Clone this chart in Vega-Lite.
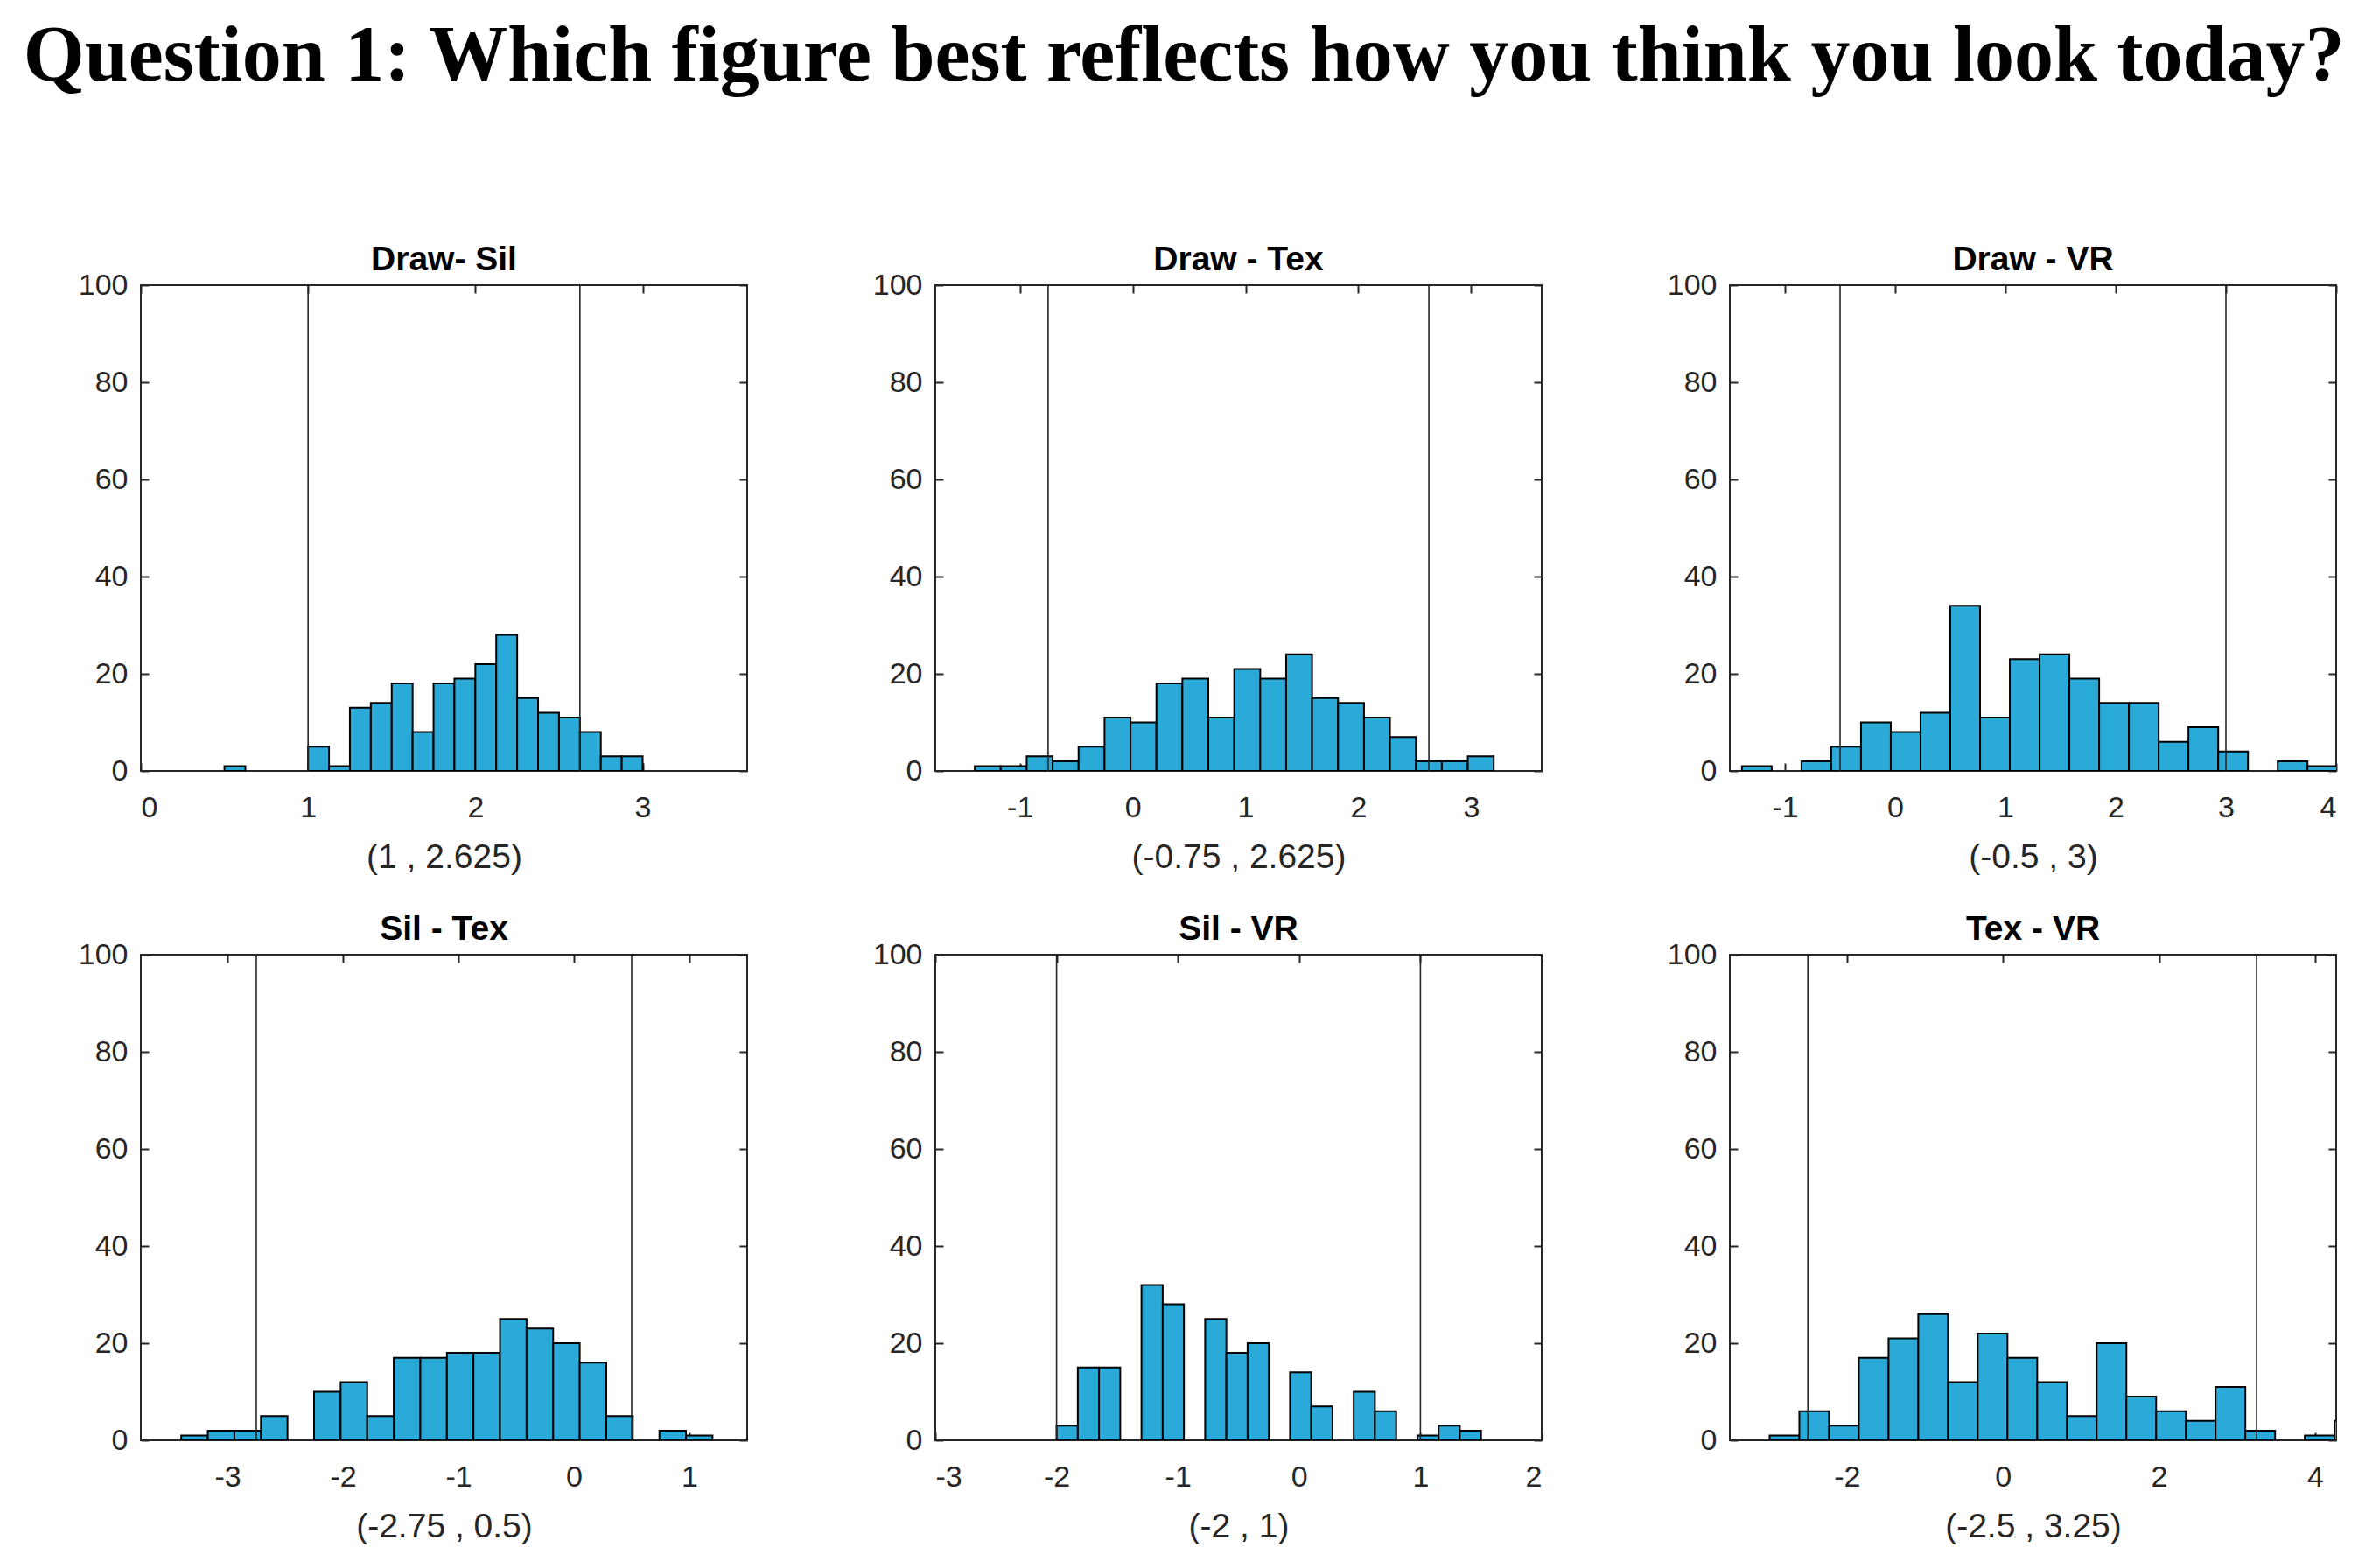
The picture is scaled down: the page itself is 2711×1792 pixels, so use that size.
{
  "$schema": "https://vega.github.io/schema/vega-lite/v6.json",
  "background": "white",
  "padding": {"left": 25, "top": 20, "right": 10, "bottom": 10},
  "title": {"text": "Question 1: Which figure best reflects how you think you look today?", "font": "Liberation Serif", "fontSize": 90, "fontWeight": "bold", "color": "#000000", "anchor": "middle", "baseline": "alphabetic", "offset": 95, "dx": -27},
  "datasets": {
    "bars": [
      {"p": "Draw- Sil", "x0": 0.5, "x1": 0.625, "n": 1},
      {"p": "Draw- Sil", "x0": 1.0, "x1": 1.125, "n": 5},
      {"p": "Draw- Sil", "x0": 1.125, "x1": 1.25, "n": 1},
      {"p": "Draw- Sil", "x0": 1.25, "x1": 1.375, "n": 13},
      {"p": "Draw- Sil", "x0": 1.375, "x1": 1.5, "n": 14},
      {"p": "Draw- Sil", "x0": 1.5, "x1": 1.625, "n": 18},
      {"p": "Draw- Sil", "x0": 1.625, "x1": 1.75, "n": 8},
      {"p": "Draw- Sil", "x0": 1.75, "x1": 1.875, "n": 18},
      {"p": "Draw- Sil", "x0": 1.875, "x1": 2.0, "n": 19},
      {"p": "Draw- Sil", "x0": 2.0, "x1": 2.125, "n": 22},
      {"p": "Draw- Sil", "x0": 2.125, "x1": 2.25, "n": 28},
      {"p": "Draw- Sil", "x0": 2.25, "x1": 2.375, "n": 15},
      {"p": "Draw- Sil", "x0": 2.375, "x1": 2.5, "n": 12},
      {"p": "Draw- Sil", "x0": 2.5, "x1": 2.625, "n": 11},
      {"p": "Draw- Sil", "x0": 2.625, "x1": 2.75, "n": 8},
      {"p": "Draw- Sil", "x0": 2.75, "x1": 2.875, "n": 3},
      {"p": "Draw- Sil", "x0": 2.875, "x1": 3.0, "n": 3},

      {"p": "Draw - Tex", "x0": -1.4, "x1": -1.17, "n": 1},
      {"p": "Draw - Tex", "x0": -1.17, "x1": -0.94, "n": 1},
      {"p": "Draw - Tex", "x0": -0.94, "x1": -0.71, "n": 3},
      {"p": "Draw - Tex", "x0": -0.71, "x1": -0.48, "n": 2},
      {"p": "Draw - Tex", "x0": -0.48, "x1": -0.25, "n": 5},
      {"p": "Draw - Tex", "x0": -0.25, "x1": -0.02, "n": 11},
      {"p": "Draw - Tex", "x0": -0.02, "x1": 0.21, "n": 10},
      {"p": "Draw - Tex", "x0": 0.21, "x1": 0.44, "n": 18},
      {"p": "Draw - Tex", "x0": 0.44, "x1": 0.67, "n": 19},
      {"p": "Draw - Tex", "x0": 0.67, "x1": 0.9, "n": 11},
      {"p": "Draw - Tex", "x0": 0.9, "x1": 1.13, "n": 21},
      {"p": "Draw - Tex", "x0": 1.13, "x1": 1.36, "n": 19},
      {"p": "Draw - Tex", "x0": 1.36, "x1": 1.59, "n": 24},
      {"p": "Draw - Tex", "x0": 1.59, "x1": 1.82, "n": 15},
      {"p": "Draw - Tex", "x0": 1.82, "x1": 2.05, "n": 14},
      {"p": "Draw - Tex", "x0": 2.05, "x1": 2.28, "n": 11},
      {"p": "Draw - Tex", "x0": 2.28, "x1": 2.51, "n": 7},
      {"p": "Draw - Tex", "x0": 2.51, "x1": 2.74, "n": 2},
      {"p": "Draw - Tex", "x0": 2.74, "x1": 2.97, "n": 2},
      {"p": "Draw - Tex", "x0": 2.97, "x1": 3.2, "n": 3},

      {"p": "Draw - VR", "x0": -1.39, "x1": -1.12, "n": 1},
      {"p": "Draw - VR", "x0": -0.85, "x1": -0.58, "n": 2},
      {"p": "Draw - VR", "x0": -0.58, "x1": -0.31, "n": 5},
      {"p": "Draw - VR", "x0": -0.31, "x1": -0.04, "n": 10},
      {"p": "Draw - VR", "x0": -0.04, "x1": 0.23, "n": 8},
      {"p": "Draw - VR", "x0": 0.23, "x1": 0.5, "n": 12},
      {"p": "Draw - VR", "x0": 0.5, "x1": 0.77, "n": 34},
      {"p": "Draw - VR", "x0": 0.77, "x1": 1.04, "n": 11},
      {"p": "Draw - VR", "x0": 1.04, "x1": 1.31, "n": 23},
      {"p": "Draw - VR", "x0": 1.31, "x1": 1.58, "n": 24},
      {"p": "Draw - VR", "x0": 1.58, "x1": 1.85, "n": 19},
      {"p": "Draw - VR", "x0": 1.85, "x1": 2.12, "n": 14},
      {"p": "Draw - VR", "x0": 2.12, "x1": 2.39, "n": 14},
      {"p": "Draw - VR", "x0": 2.39, "x1": 2.66, "n": 6},
      {"p": "Draw - VR", "x0": 2.66, "x1": 2.93, "n": 9},
      {"p": "Draw - VR", "x0": 2.93, "x1": 3.2, "n": 4},
      {"p": "Draw - VR", "x0": 3.47, "x1": 3.74, "n": 2},
      {"p": "Draw - VR", "x0": 3.74, "x1": 4.01, "n": 1},

      {"p": "Sil - Tex", "x0": -3.4, "x1": -3.17, "n": 1},
      {"p": "Sil - Tex", "x0": -3.17, "x1": -2.94, "n": 2},
      {"p": "Sil - Tex", "x0": -2.94, "x1": -2.71, "n": 2},
      {"p": "Sil - Tex", "x0": -2.71, "x1": -2.48, "n": 5},
      {"p": "Sil - Tex", "x0": -2.25, "x1": -2.02, "n": 10},
      {"p": "Sil - Tex", "x0": -2.02, "x1": -1.79, "n": 12},
      {"p": "Sil - Tex", "x0": -1.79, "x1": -1.56, "n": 5},
      {"p": "Sil - Tex", "x0": -1.56, "x1": -1.33, "n": 17},
      {"p": "Sil - Tex", "x0": -1.33, "x1": -1.1, "n": 17},
      {"p": "Sil - Tex", "x0": -1.1, "x1": -0.87, "n": 18},
      {"p": "Sil - Tex", "x0": -0.87, "x1": -0.64, "n": 18},
      {"p": "Sil - Tex", "x0": -0.64, "x1": -0.41, "n": 25},
      {"p": "Sil - Tex", "x0": -0.41, "x1": -0.18, "n": 23},
      {"p": "Sil - Tex", "x0": -0.18, "x1": 0.05, "n": 20},
      {"p": "Sil - Tex", "x0": 0.05, "x1": 0.28, "n": 16},
      {"p": "Sil - Tex", "x0": 0.28, "x1": 0.51, "n": 5},
      {"p": "Sil - Tex", "x0": 0.74, "x1": 0.97, "n": 2},
      {"p": "Sil - Tex", "x0": 0.97, "x1": 1.2, "n": 1},

      {"p": "Sil - VR", "x0": -2.0, "x1": -1.825, "n": 3},
      {"p": "Sil - VR", "x0": -1.825, "x1": -1.65, "n": 15},
      {"p": "Sil - VR", "x0": -1.65, "x1": -1.475, "n": 15},
      {"p": "Sil - VR", "x0": -1.3, "x1": -1.125, "n": 32},
      {"p": "Sil - VR", "x0": -1.125, "x1": -0.95, "n": 28},
      {"p": "Sil - VR", "x0": -0.775, "x1": -0.6, "n": 25},
      {"p": "Sil - VR", "x0": -0.6, "x1": -0.425, "n": 18},
      {"p": "Sil - VR", "x0": -0.425, "x1": -0.25, "n": 20},
      {"p": "Sil - VR", "x0": -0.075, "x1": 0.1, "n": 14},
      {"p": "Sil - VR", "x0": 0.1, "x1": 0.275, "n": 7},
      {"p": "Sil - VR", "x0": 0.45, "x1": 0.625, "n": 10},
      {"p": "Sil - VR", "x0": 0.625, "x1": 0.8, "n": 6},
      {"p": "Sil - VR", "x0": 0.975, "x1": 1.15, "n": 1},
      {"p": "Sil - VR", "x0": 1.15, "x1": 1.325, "n": 3},
      {"p": "Sil - VR", "x0": 1.325, "x1": 1.5, "n": 2},

      {"p": "Tex - VR", "x0": -2.99, "x1": -2.609, "n": 1},
      {"p": "Tex - VR", "x0": -2.609, "x1": -2.228, "n": 6},
      {"p": "Tex - VR", "x0": -2.228, "x1": -1.847, "n": 3},
      {"p": "Tex - VR", "x0": -1.847, "x1": -1.466, "n": 17},
      {"p": "Tex - VR", "x0": -1.466, "x1": -1.085, "n": 21},
      {"p": "Tex - VR", "x0": -1.085, "x1": -0.704, "n": 26},
      {"p": "Tex - VR", "x0": -0.704, "x1": -0.323, "n": 12},
      {"p": "Tex - VR", "x0": -0.323, "x1": 0.058, "n": 22},
      {"p": "Tex - VR", "x0": 0.058, "x1": 0.439, "n": 17},
      {"p": "Tex - VR", "x0": 0.439, "x1": 0.82, "n": 12},
      {"p": "Tex - VR", "x0": 0.82, "x1": 1.201, "n": 5},
      {"p": "Tex - VR", "x0": 1.201, "x1": 1.582, "n": 20},
      {"p": "Tex - VR", "x0": 1.582, "x1": 1.963, "n": 9},
      {"p": "Tex - VR", "x0": 1.963, "x1": 2.344, "n": 6},
      {"p": "Tex - VR", "x0": 2.344, "x1": 2.725, "n": 4},
      {"p": "Tex - VR", "x0": 2.725, "x1": 3.106, "n": 11},
      {"p": "Tex - VR", "x0": 3.106, "x1": 3.487, "n": 2},
      {"p": "Tex - VR", "x0": 3.868, "x1": 4.249, "n": 1},
      {"p": "Tex - VR", "x0": 4.249, "x1": 4.63, "n": 4}
    ],
    "lines": [
      {"p": "Draw- Sil", "x": 1},
      {"p": "Draw- Sil", "x": 2.625},
      {"p": "Draw - Tex", "x": -0.75},
      {"p": "Draw - Tex", "x": 2.625},
      {"p": "Draw - VR", "x": -0.5},
      {"p": "Draw - VR", "x": 3},
      {"p": "Sil - Tex", "x": -2.75},
      {"p": "Sil - Tex", "x": 0.5},
      {"p": "Sil - VR", "x": -2},
      {"p": "Sil - VR", "x": 1},
      {"p": "Tex - VR", "x": -2.5},
      {"p": "Tex - VR", "x": 3.25}
    ]
  },
  "vconcat": [
    {
      "hconcat": [
        {
          "width": 693, "height": 555,
          "title": "Draw- Sil",
          "layer": [
            {"data": {"name": "bars"}, "transform": [{"filter": "datum.p == 'Draw- Sil'"}],
             "mark": {"type": "bar", "fill": "#2aaad9", "stroke": "#000000", "strokeWidth": 2, "clip": true},
             "encoding": {
               "x": {"field": "x0", "type": "quantitative", "scale": {"domain": [0, 3.625], "nice": false, "zero": false}, "axis": {"values": [0, 1, 2, 3], "title": "(1 , 2.625)"}},
               "x2": {"field": "x1"},
               "y": {"field": "n", "type": "quantitative", "scale": {"domain": [0, 100], "nice": false}, "axis": {"values": [0, 20, 40, 60, 80, 100], "title": null}},
               "y2": {"datum": 0}
             }},
            {"data": {"name": "lines"}, "transform": [{"filter": "datum.p == 'Draw- Sil'"}],
             "mark": {"type": "rule", "color": "#262626", "strokeWidth": 1.6},
             "encoding": {
               "x": {"field": "x", "type": "quantitative", "scale": {"domain": [0, 3.625], "nice": false, "zero": false}, "axis": {"orient": "top", "values": [0, 1, 2, 3], "labels": false, "title": null}},
               "y": {"datum": 0, "type": "quantitative", "axis": {"orient": "right", "values": [0, 20, 40, 60, 80, 100], "labels": false, "title": null}},
               "y2": {"datum": 100}
             }}
          ],
          "resolve": {"axis": {"x": "independent", "y": "independent"}}
        },
        {
          "width": 693, "height": 555,
          "title": "Draw - Tex",
          "layer": [
            {"data": {"name": "bars"}, "transform": [{"filter": "datum.p == 'Draw - Tex'"}],
             "mark": {"type": "bar", "fill": "#2aaad9", "stroke": "#000000", "strokeWidth": 2, "clip": true},
             "encoding": {
               "x": {"field": "x0", "type": "quantitative", "scale": {"domain": [-1.75, 3.625], "nice": false, "zero": false}, "axis": {"values": [-1, 0, 1, 2, 3], "title": "(-0.75 , 2.625)"}},
               "x2": {"field": "x1"},
               "y": {"field": "n", "type": "quantitative", "scale": {"domain": [0, 100], "nice": false}, "axis": {"values": [0, 20, 40, 60, 80, 100], "title": null}},
               "y2": {"datum": 0}
             }},
            {"data": {"name": "lines"}, "transform": [{"filter": "datum.p == 'Draw - Tex'"}],
             "mark": {"type": "rule", "color": "#262626", "strokeWidth": 1.6},
             "encoding": {
               "x": {"field": "x", "type": "quantitative", "scale": {"domain": [-1.75, 3.625], "nice": false, "zero": false}, "axis": {"orient": "top", "values": [-1, 0, 1, 2, 3], "labels": false, "title": null}},
               "y": {"datum": 0, "type": "quantitative", "axis": {"orient": "right", "values": [0, 20, 40, 60, 80, 100], "labels": false, "title": null}},
               "y2": {"datum": 100}
             }}
          ],
          "resolve": {"axis": {"x": "independent", "y": "independent"}}
        },
        {
          "width": 693, "height": 555,
          "title": "Draw - VR",
          "layer": [
            {"data": {"name": "bars"}, "transform": [{"filter": "datum.p == 'Draw - VR'"}],
             "mark": {"type": "bar", "fill": "#2aaad9", "stroke": "#000000", "strokeWidth": 2, "clip": true},
             "encoding": {
               "x": {"field": "x0", "type": "quantitative", "scale": {"domain": [-1.5, 4], "nice": false, "zero": false}, "axis": {"values": [-1, 0, 1, 2, 3, 4], "title": "(-0.5 , 3)"}},
               "x2": {"field": "x1"},
               "y": {"field": "n", "type": "quantitative", "scale": {"domain": [0, 100], "nice": false}, "axis": {"values": [0, 20, 40, 60, 80, 100], "title": null}},
               "y2": {"datum": 0}
             }},
            {"data": {"name": "lines"}, "transform": [{"filter": "datum.p == 'Draw - VR'"}],
             "mark": {"type": "rule", "color": "#262626", "strokeWidth": 1.6},
             "encoding": {
               "x": {"field": "x", "type": "quantitative", "scale": {"domain": [-1.5, 4], "nice": false, "zero": false}, "axis": {"orient": "top", "values": [-1, 0, 1, 2, 3, 4], "labels": false, "title": null}},
               "y": {"datum": 0, "type": "quantitative", "axis": {"orient": "right", "values": [0, 20, 40, 60, 80, 100], "labels": false, "title": null}},
               "y2": {"datum": 100}
             }}
          ],
          "resolve": {"axis": {"x": "independent", "y": "independent"}}
        }
      ],
      "spacing": 215,
      "bounds": "flush"
    },
    {
      "hconcat": [
        {
          "width": 693, "height": 555,
          "title": "Sil - Tex",
          "layer": [
            {"data": {"name": "bars"}, "transform": [{"filter": "datum.p == 'Sil - Tex'"}],
             "mark": {"type": "bar", "fill": "#2aaad9", "stroke": "#000000", "strokeWidth": 2, "clip": true},
             "encoding": {
               "x": {"field": "x0", "type": "quantitative", "scale": {"domain": [-3.75, 1.5], "nice": false, "zero": false}, "axis": {"values": [-3, -2, -1, 0, 1], "title": "(-2.75 , 0.5)"}},
               "x2": {"field": "x1"},
               "y": {"field": "n", "type": "quantitative", "scale": {"domain": [0, 100], "nice": false}, "axis": {"values": [0, 20, 40, 60, 80, 100], "title": null}},
               "y2": {"datum": 0}
             }},
            {"data": {"name": "lines"}, "transform": [{"filter": "datum.p == 'Sil - Tex'"}],
             "mark": {"type": "rule", "color": "#262626", "strokeWidth": 1.6},
             "encoding": {
               "x": {"field": "x", "type": "quantitative", "scale": {"domain": [-3.75, 1.5], "nice": false, "zero": false}, "axis": {"orient": "top", "values": [-3, -2, -1, 0, 1], "labels": false, "title": null}},
               "y": {"datum": 0, "type": "quantitative", "axis": {"orient": "right", "values": [0, 20, 40, 60, 80, 100], "labels": false, "title": null}},
               "y2": {"datum": 100}
             }}
          ],
          "resolve": {"axis": {"x": "independent", "y": "independent"}}
        },
        {
          "width": 693, "height": 555,
          "title": "Sil - VR",
          "layer": [
            {"data": {"name": "bars"}, "transform": [{"filter": "datum.p == 'Sil - VR'"}],
             "mark": {"type": "bar", "fill": "#2aaad9", "stroke": "#000000", "strokeWidth": 2, "clip": true},
             "encoding": {
               "x": {"field": "x0", "type": "quantitative", "scale": {"domain": [-3, 2], "nice": false, "zero": false}, "axis": {"values": [-3, -2, -1, 0, 1, 2], "title": "(-2 , 1)"}},
               "x2": {"field": "x1"},
               "y": {"field": "n", "type": "quantitative", "scale": {"domain": [0, 100], "nice": false}, "axis": {"values": [0, 20, 40, 60, 80, 100], "title": null}},
               "y2": {"datum": 0}
             }},
            {"data": {"name": "lines"}, "transform": [{"filter": "datum.p == 'Sil - VR'"}],
             "mark": {"type": "rule", "color": "#262626", "strokeWidth": 1.6},
             "encoding": {
               "x": {"field": "x", "type": "quantitative", "scale": {"domain": [-3, 2], "nice": false, "zero": false}, "axis": {"orient": "top", "values": [-3, -2, -1, 0, 1, 2], "labels": false, "title": null}},
               "y": {"datum": 0, "type": "quantitative", "axis": {"orient": "right", "values": [0, 20, 40, 60, 80, 100], "labels": false, "title": null}},
               "y2": {"datum": 100}
             }}
          ],
          "resolve": {"axis": {"x": "independent", "y": "independent"}}
        },
        {
          "width": 693, "height": 555,
          "title": "Tex - VR",
          "layer": [
            {"data": {"name": "bars"}, "transform": [{"filter": "datum.p == 'Tex - VR'"}],
             "mark": {"type": "bar", "fill": "#2aaad9", "stroke": "#000000", "strokeWidth": 2, "clip": true},
             "encoding": {
               "x": {"field": "x0", "type": "quantitative", "scale": {"domain": [-3.5, 4.27], "nice": false, "zero": false}, "axis": {"values": [-2, 0, 2, 4], "title": "(-2.5 , 3.25)"}},
               "x2": {"field": "x1"},
               "y": {"field": "n", "type": "quantitative", "scale": {"domain": [0, 100], "nice": false}, "axis": {"values": [0, 20, 40, 60, 80, 100], "title": null}},
               "y2": {"datum": 0}
             }},
            {"data": {"name": "lines"}, "transform": [{"filter": "datum.p == 'Tex - VR'"}],
             "mark": {"type": "rule", "color": "#262626", "strokeWidth": 1.6},
             "encoding": {
               "x": {"field": "x", "type": "quantitative", "scale": {"domain": [-3.5, 4.27], "nice": false, "zero": false}, "axis": {"orient": "top", "values": [-2, 0, 2, 4], "labels": false, "title": null}},
               "y": {"datum": 0, "type": "quantitative", "axis": {"orient": "right", "values": [0, 20, 40, 60, 80, 100], "labels": false, "title": null}},
               "y2": {"datum": 100}
             }}
          ],
          "resolve": {"axis": {"x": "independent", "y": "independent"}}
        }
      ],
      "spacing": 215,
      "bounds": "flush"
    }
  ],
  "spacing": 42,
  "config": {
    "view": {"stroke": "#262626", "strokeWidth": 2},
    "axis": {
      "domain": false, "grid": false, "ticks": true, "tickSize": -9, "tickColor": "#262626", "tickWidth": 2,
      "labelFont": "Liberation Sans", "labelFontSize": 34, "labelColor": "#262626",
      "labelExpr": "'' + datum.value",
      "titleFont": "Liberation Sans", "titleFontSize": 39, "titleFontWeight": "normal", "titleColor": "#262626"
    },
    "axisX": {"labelPadding": 34, "titlePadding": 20},
    "axisY": {"labelPadding": 24},
    "title": {"font": "Liberation Sans", "fontSize": 39, "fontWeight": "bold", "color": "#000000", "baseline": "alphabetic", "offset": -8}
  }
}
